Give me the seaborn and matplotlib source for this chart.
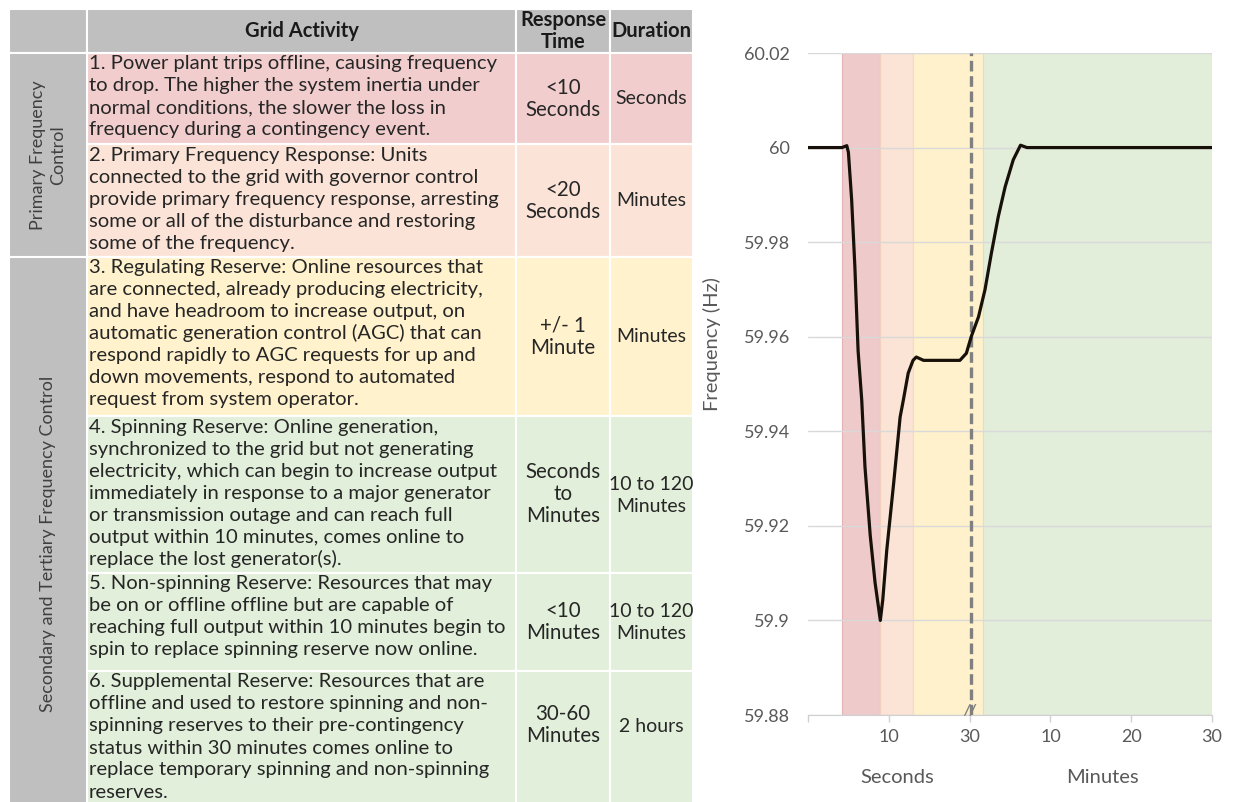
import numpy as np
import matplotlib
matplotlib.use('Agg')
import matplotlib.pyplot as plt
import matplotlib.transforms as mtransforms
import seaborn as sns

# ---- table content ----
headers = ['', 'Grid Activity', 'Response\nTime', 'Duration']
groups = ['Primary Frequency\nControl', 'Secondary and Tertiary Frequency Control']
group_sizes = [2, 4]

activities = [
    "1. Power plant trips offline, causing frequency\nto drop. The higher the system inertia under\n"
    "normal conditions, the slower the loss in\nfrequency during a contingency event.",
    "2. Primary Frequency Response: Units\nconnected to the grid with governor control\n"
    "provide primary frequency response, arresting\nsome or all of the disturbance and restoring\n"
    "some of the frequency.",
    "3. Regulating Reserve: Online resources that\nare connected, already producing electricity,\n"
    "and have headroom to increase output, on\nautomatic generation control (AGC) that can\n"
    "respond rapidly to AGC requests for up and\ndown movements, respond to automated\n"
    "request from system operator.",
    "4. Spinning Reserve: Online generation,\nsynchronized to the grid but not generating\n"
    "electricity, which can begin to increase output\nimmediately in response to a major generator\n"
    "or transmission outage and can reach full\noutput within 10 minutes, comes online to\n"
    "replace the lost generator(s).",
    "5. Non-spinning Reserve: Resources that may\nbe on or offline offline but are capable of\n"
    "reaching full output within 10 minutes begin to\nspin to replace spinning reserve now online.",
    "6. Supplemental Reserve: Resources that are\noffline and used to restore spinning and non-\n"
    "spinning reserves to their pre-contingency\nstatus within 30 minutes comes online to\n"
    "replace temporary spinning and non-spinning\nreserves.",
]
response_times = ['<10\nSeconds', '<20\nSeconds', '+/- 1\nMinute', 'Seconds\nto\nMinutes',
                  '<10\nMinutes', '30-60\nMinutes']
durations = ['Seconds', 'Minutes', 'Minutes', '10 to 120\nMinutes', '10 to 120\nMinutes', '2 hours']
row_colors = ['#f2cdcd', '#fbe4d7', '#fff2cc', '#e2efda', '#e2efda', '#e2efda']

# ---- frequency trace (x: 0-2 seconds part, 2-5 minutes part) ----
time_pos = [0, 0.42, 0.48, 0.50, 0.54, 0.58, 0.62, 0.665, 0.705, 0.77, 0.83, 0.895,
            0.925, 0.975, 1.06, 1.14, 1.18, 1.24, 1.30, 1.34, 1.43, 1.88, 1.96, 2.02,
            2.11, 2.19, 2.27, 2.355, 2.44, 2.54, 2.63, 2.71, 5.0]
freq_hz = [60.0, 60.0, 60.0004, 59.999, 59.989, 59.9748, 59.957, 59.9466, 59.9325, 59.918,
           59.908, 59.900, 59.9043, 59.9149, 59.929, 59.943, 59.9466, 59.9523, 59.955,
           59.9557, 59.955, 59.955, 59.9565, 59.960, 59.9642, 59.9699, 59.9777, 59.9854,
           59.9917, 59.9974, 60.0005, 60.0, 60.0]
band_start = [0.42, 0.89, 1.30, 2.17]
band_end = [0.89, 1.30, 2.17, 5.0]
band_colors = ['#efcacb', '#fbe3d6', '#fff1cc', '#e2eed9']
band_edges = ['#e3b3b4', '#f2d0bf', '#f5e0ad', '#d3e4c8']
break_pos = 2.02
xtick_labels = ['', '10', '30', '10', '20', '30']
ytick_vals = [59.88, 59.90, 59.92, 59.94, 59.96, 59.98, 60.00, 60.02]

# ---- layout (pixels) ----
W, H = 1238, 802
COL_EDGES = [9, 87, 516, 610, 693]
HEAD_TOP, HEAD_BOT = 9, 53
ROW_EDGES = [53, 144, 257, 416, 573, 671, 780]
DRAW_BOTTOM = 830
PITCH = 22.0

sns.set_style('white')
plt.rcParams['font.family'] = ['Lato', 'DejaVu Sans']

fig = plt.figure(figsize=(W / 100, H / 100), dpi=100)

# ---------- table ----------
ax_t = fig.add_axes([0, 0, 700 / W, 1])
ax_t.set_xlim(0, 700)
ax_t.set_ylim(H, 0)
ax_t.axis('off')

lefts = np.array(COL_EDGES[:-1])
widths = np.diff(COL_EDGES)
tops = ROW_EDGES[:-1]
bots = ROW_EDGES[1:]
draw_bots = bots[:-1] + [DRAW_BOTTOM]

ax_t.barh([(HEAD_TOP + HEAD_BOT) / 2] * 4, widths, left=lefts, height=HEAD_BOT - HEAD_TOP,
          color='#bfbfbf', edgecolor='white', linewidth=1.5)
for j, h in enumerate(headers):
    lines = h.split('\n')
    xc = (COL_EDGES[j] + COL_EDGES[j + 1]) / 2
    for k, line in enumerate(lines):
        y = (HEAD_TOP + HEAD_BOT) / 2 + (k - (len(lines) - 1) / 2) * 21 + 6
        ax_t.text(xc, y, line, ha='center', va='baseline', fontsize=14.5,
                  fontweight='bold', color='#1a1a1a')

cell_sizes = {2: 14.8, 3: 14}
for i in range(len(activities)):
    mid = (tops[i] + draw_bots[i]) / 2
    ax_t.barh([mid] * 3, widths[1:], left=lefts[1:], height=draw_bots[i] - tops[i],
              color=row_colors[i], edgecolor='white', linewidth=1.5)
    for k, line in enumerate(activities[i].split('\n')):
        ax_t.text(COL_EDGES[1] + 2, tops[i] + 16.5 + k * PITCH, line, ha='left',
                  va='baseline', fontsize=14.6, color='#262626')
    for col, vals in ((2, response_times), (3, durations)):
        xc = (COL_EDGES[col] + COL_EDGES[col + 1]) / 2
        lines = vals[i].split('\n')
        cmid = (tops[i] + bots[i]) / 2
        for k, line in enumerate(lines):
            y = cmid + (k - (len(lines) - 1) / 2) * 22 + 6
            ax_t.text(xc, y, line, ha='center', va='baseline', fontsize=cell_sizes[col],
                      color='#262626')

start = 0
for label, n in zip(groups, group_sizes):
    top = ROW_EDGES[start]
    bot = draw_bots[start + n - 1]
    ax_t.barh((top + bot) / 2, widths[0], left=lefts[0], height=bot - top,
              color='#bfbfbf', edgecolor='white', linewidth=1.5)
    ax_t.text((COL_EDGES[0] + COL_EDGES[1]) / 2, (top + bot) / 2, label, rotation=90,
              ha='center', va='center', multialignment='center', fontsize=13,
              color='#404040', linespacing=1.3)
    start += n

# ---------- frequency chart ----------
ax = fig.add_axes([808 / W, (H - 715) / H, (1212 - 808) / W, (715 - 53) / H])
for s, e, c, ec in zip(band_start, band_end, band_colors, band_edges):
    ax.axvspan(s, e, facecolor=c, edgecolor=ec, linewidth=0.8, zorder=0.2)

sns.lineplot(x=time_pos, y=freq_hz, ax=ax, color='#17110a', linewidth=2.3, zorder=3)
ax.axvline(break_pos, color='#808080', linewidth=2.4, dashes=(3.2, 1.4), zorder=2.5)

ax.set_xlim(0, 5)
ax.set_ylim(59.88, 60.02)
ax.set_yticks(ytick_vals)
ax.set_yticklabels(['%g' % round(v, 2) for v in ytick_vals])
ax.set_xticks(range(len(xtick_labels)))
ax.set_xticklabels(xtick_labels)
ax.yaxis.grid(True, color='#d9d9d9', linewidth=1)
ax.xaxis.grid(False)
ax.set_axisbelow(True)

sns.despine(ax=ax, left=True)
ax.spines['bottom'].set_color('#d0d0d0')
ax.tick_params(axis='x', length=5, width=1, color='#d0d0d0', pad=5,
               labelsize=13, labelcolor='#595959', bottom=True)
ax.tick_params(axis='y', length=0, pad=13, labelsize=13, labelcolor='#595959')

ax.set_ylabel('Frequency (Hz)', fontsize=14.5, color='#595959')
ax.yaxis.set_label_coords(-0.215, 0.56)

trans = mtransforms.blended_transform_factory(ax.transData, ax.transAxes)
ax.text(1.1, -0.095, 'Seconds', transform=trans, ha='center', va='center',
        fontsize=14.5, color='#595959')
ax.text(3.65, -0.095, 'Minutes', transform=trans, ha='center', va='center',
        fontsize=14.5, color='#595959')
ax.text(break_pos - 0.02, 59.8808, '//', ha='center', va='center', fontsize=11,
        fontweight='bold', fontstyle='italic', color='#7f7f7f', zorder=4, clip_on=False)

fig.savefig('out.png', dpi=100)
